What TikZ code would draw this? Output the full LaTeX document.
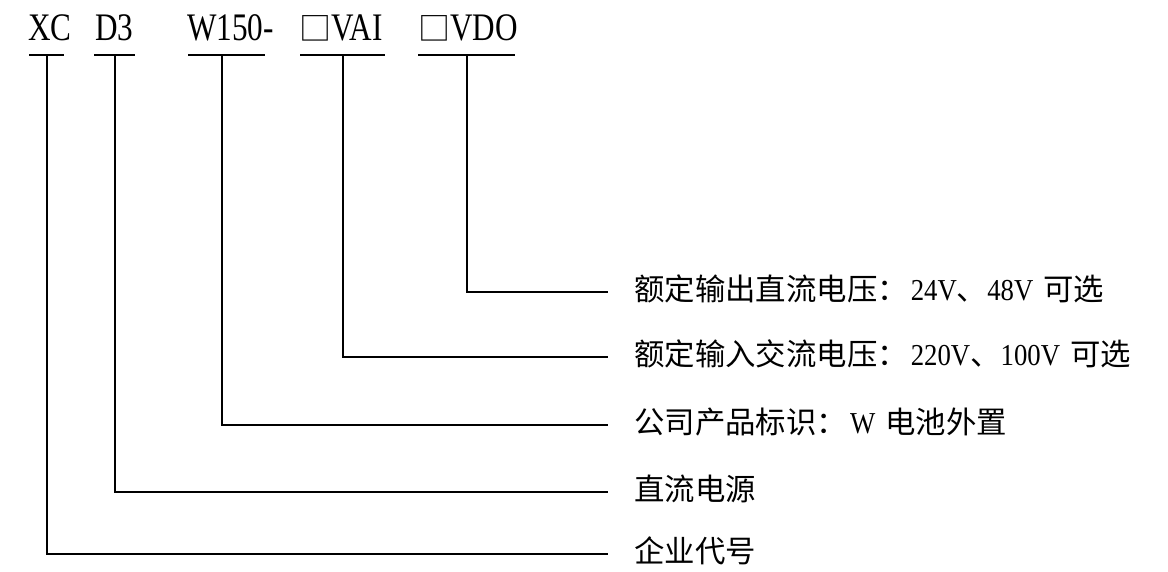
\documentclass[tikz,border=0pt]{standalone}
\usepackage{fontspec}
\setmainfont{Liberation Serif}[FakeStretch=0.8]
\newfontfamily\labfont{Liberation Serif}[FakeStretch=0.88]
\newfontfamily\cjk{Noto Sans CJK SC}
\begin{document}
\begin{tikzpicture}[x=1pt,y=-1pt,
  code/.style={anchor=base west,inner sep=0pt,font=\fontsize{39}{40}\selectfont},
  lab/.style={anchor=base west,inner sep=0pt,font=\labfont\fontsize{30.4}{32}\selectfont},
  ubar/.style={inner sep=0pt,minimum height=0pt,outer sep=0pt},
  uline/.style={line width=2.6pt},
  conn/.style={line width=2pt}]
\useasboundingbox (0,0) rectangle (1168,571);
% code segments
\node[code] (cXC)  at (28,40)  {XC};
\node[code] (cD)   at (95,40)  {D3};
\node[code] (cW)   at (187,40) {W150-};
\node[code] (cVAI) at (299,40) {{\cjk\fontsize{32}{32}\selectfont □}VAI};
\node[code] (cVDO) at (418,40) {{\cjk\fontsize{32}{32}\selectfont □}VDO};
% underlines
\node[ubar,minimum width=35pt] (uXC)  at (46.5,55) {};
\node[ubar,minimum width=41pt] (uD)   at (114.5,55) {};
\node[ubar,minimum width=77pt] (uW)   at (226.5,55) {};
\node[ubar,minimum width=85pt] (uVAI) at (342.5,55) {};
\node[ubar,minimum width=97pt] (uVDO) at (466.5,55) {};
\foreach \u in {uXC,uD,uW,uVAI,uVDO}
  \draw[uline] (\u.west) -- (\u.east);
% labels
\node[lab] (lVDO) at (634,300.5) {{\cjk 额定输出直流电压：}\hspace{3pt}24V{\cjk 、}48V\hspace{10pt}{\cjk 可选}};
\node[lab] (lVAI) at (634,365.5) {{\cjk 额定输入交流电压：}\hspace{3pt}220V{\cjk 、}100V\hspace{10pt}{\cjk 可选}};
\node[lab] (lW)   at (634,433.5) {{\cjk 公司产品标识：}\hspace{3pt}W\hspace{10pt}{\cjk 电池外置}};
\node[lab] (lD)   at (634,500.5) {{\cjk 直流电源}};
\node[lab] (lXC)  at (634,562.5) {{\cjk 企业代号}};
% connector ends
\coordinate (eVDO) at (608,292);
\coordinate (eVAI) at (608,357);
\coordinate (eW)   at (608,425);
\coordinate (eD)   at (608,492);
\coordinate (eXC)  at (608,554);
% connectors
\draw[conn] (uVDO.center) |- (eVDO);
\draw[conn] (uVAI.center) |- (eVAI);
\draw[conn] ([xshift=-4.5pt]uW.center) |- (eW);
\draw[conn] (uD.center) |- (eD);
\draw[conn] (uXC.center) |- (eXC);
\end{tikzpicture}
\end{document}
